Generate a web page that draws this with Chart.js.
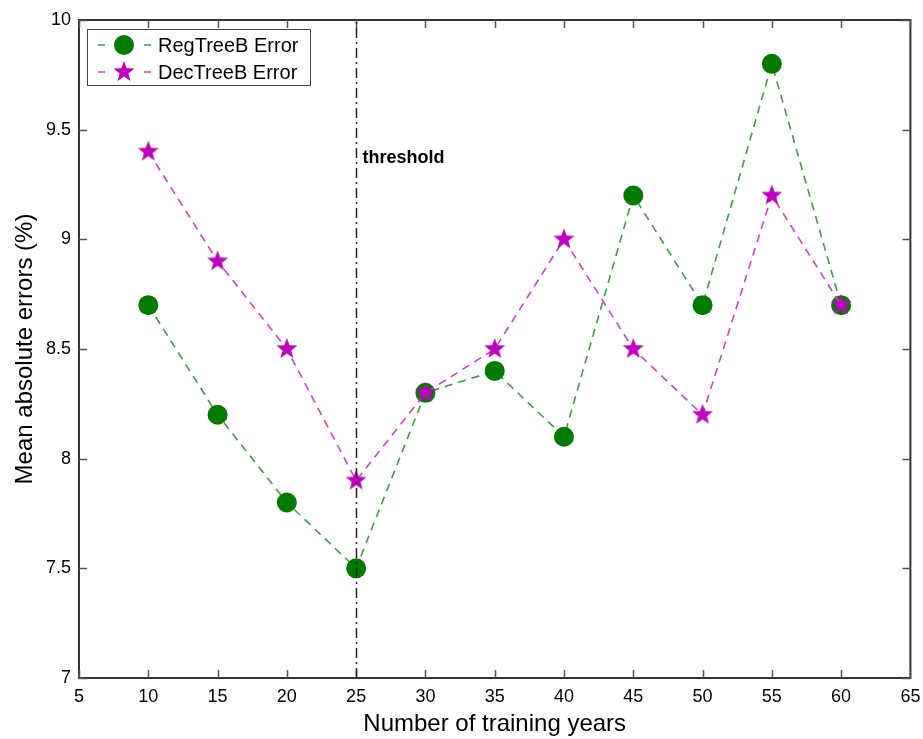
<!DOCTYPE html>
<html>
<head>
<meta charset="utf-8">
<script src="https://cdn.jsdelivr.net/npm/chart.js@4.4.0/dist/chart.umd.min.js"></script>
<style>
  html, body { margin: 0; padding: 0; background: #fff; }
  #wrap { width: 923px; height: 739px; }
</style>
</head>
<body>
<div id="wrap"><canvas id="myChart" width="923" height="739"></canvas></div>
<script>
// data
const years = [10, 15, 20, 25, 30, 35, 40, 45, 50, 55, 60];
const regTreeErr = [8.7, 8.2, 7.8, 7.5, 8.3, 8.4, 8.1, 9.2, 8.7, 9.8, 8.7];
const decTreeErr = [9.4, 8.9, 8.5, 7.9, 8.3, 8.5, 9.0, 8.5, 8.2, 9.2, 8.7];
const xTicks = [5, 10, 15, 20, 25, 30, 35, 40, 45, 50, 55, 60, 65];
const yTicks = [7, 7.5, 8, 8.5, 9, 9.5, 10];
const thresholdYear = 25;

const FONT = "'Liberation Sans', Arial, Helvetica, sans-serif";

// filled five point star as marker
function makeStar(r, color) {
  const c = document.createElement('canvas');
  c.width = c.height = 2 * r + 2;
  const g = c.getContext('2d');
  g.fillStyle = color;
  g.beginPath();
  for (let i = 0; i < 10; i++) {
    const rad = i % 2 ? r * 0.42 : r;
    const a = -Math.PI / 2 + i * Math.PI / 5;
    g.lineTo(r + 1 + rad * Math.cos(a), r + 1 + rad * Math.sin(a));
  }
  g.closePath();
  g.fill();
  return c;
}
const starImg = makeStar(11, '#c000c0');

// box, inward ticks, threshold line and legend
const decorPlugin = {
  id: 'decor',
  afterDraw(chart) {
    const ctx = chart.ctx;
    const a = chart.chartArea;
    const xs = chart.scales.x, ys = chart.scales.y;
    ctx.save();
    ctx.strokeStyle = '#333';
    ctx.lineWidth = 2;
    ctx.strokeRect(a.left, a.top, a.right - a.left, a.bottom - a.top);
    ctx.lineWidth = 1.5;
    ctx.strokeStyle = '#555';
    ctx.beginPath();
    xs.ticks.forEach(t => {
      const px = Math.round(xs.getPixelForValue(t.value)) + 0.5;
      ctx.moveTo(px, a.bottom); ctx.lineTo(px, a.bottom - 8);
      ctx.moveTo(px, a.top); ctx.lineTo(px, a.top + 8);
    });
    ys.ticks.forEach(t => {
      const py = Math.round(ys.getPixelForValue(t.value)) + 0.5;
      ctx.moveTo(a.left, py); ctx.lineTo(a.left + 8, py);
      ctx.moveTo(a.right, py); ctx.lineTo(a.right - 8, py);
    });
    ctx.stroke();

    // threshold
    const tx = Math.round(xs.getPixelForValue(thresholdYear)) + 0.5;
    ctx.strokeStyle = '#222';
    ctx.lineWidth = 1.5;
    ctx.setLineDash([10, 4, 2, 4]);
    ctx.beginPath();
    ctx.moveTo(tx, a.bottom); ctx.lineTo(tx, a.top);
    ctx.stroke();
    ctx.setLineDash([]);
    ctx.fillStyle = '#000';
    ctx.font = "bold 18px 'Liberation Sans Narrow', 'Liberation Sans', Arial, sans-serif";
    ctx.textBaseline = 'middle';
    ctx.textAlign = 'left';
    ctx.fillText('threshold', tx + 6, 158);

    // legend
    const lx = a.left + 8, ly = a.top + 9, lw = 223, lh = 56;
    ctx.fillStyle = '#fff';
    ctx.fillRect(lx, ly, lw, lh);
    ctx.strokeStyle = '#444';
    ctx.lineWidth = 1;
    ctx.strokeRect(lx + 0.5, ly + 0.5, lw, lh);
    chart.data.datasets.forEach((ds, i) => {
      const cy = ly + 16 + i * 27;
      ctx.strokeStyle = ds.borderColor;
      ctx.lineWidth = 1.5;
      ctx.beginPath();
      ctx.moveTo(lx + 11, cy); ctx.lineTo(lx + 18, cy);
      ctx.moveTo(lx + 57, cy); ctx.lineTo(lx + 64, cy);
      ctx.stroke();
      const mx = lx + 37;
      if (ds.pointStyle === 'circle') {
        ctx.fillStyle = ds.pointBackgroundColor;
        ctx.beginPath();
        ctx.arc(mx, cy, 10, 0, Math.PI * 2);
        ctx.fill();
      } else {
        ctx.drawImage(ds.pointStyle, mx - ds.pointStyle.width / 2, cy - ds.pointStyle.height / 2);
      }
      ctx.fillStyle = '#000';
      ctx.font = '20px ' + FONT;
      ctx.textAlign = 'left';
      ctx.textBaseline = 'middle';
      ctx.fillText(ds.label, lx + 71, cy + 1);
    });
    ctx.restore();
  }
};

const ctx = document.getElementById('myChart');

new Chart(ctx, {
  type: 'line',
  data: {
    datasets: [{
      label: 'RegTreeB Error',
      data: years.map((x, i) => ({x: x, y: regTreeErr[i]})),
      borderColor: '#3c9e3c',
      borderWidth: 1.6,
      borderDash: [8, 6],
      pointStyle: 'circle',
      pointRadius: 10,
      pointBackgroundColor: '#007a00',
      pointBorderColor: '#007a00',
      pointBorderWidth: 0,
      tension: 0,
      order: 1
    }, {
      label: 'DecTreeB Error',
      data: years.map((x, i) => ({x: x, y: decTreeErr[i]})),
      borderColor: '#d040d0',
      borderWidth: 1.6,
      borderDash: [8, 6],
      pointStyle: starImg,
      pointRadius: 11,
      pointBackgroundColor: '#c000c0',
      tension: 0,
      order: 0
    }]
  },
  plugins: [decorPlugin],
  options: {
    responsive: false,
    animation: false,
    events: [],
    layout: { padding: { left: 0, top: 20, right: 11, bottom: 0 } },
    plugins: { legend: { display: false }, tooltip: { enabled: false } },
    scales: {
      x: {
        type: 'linear',
        min: 5, max: 65,
        afterBuildTicks: s => { s.ticks = xTicks.map(v => ({value: v})); },
        afterFit: s => { s.height = 61; s.paddingLeft = 0; s.paddingRight = 0; },
        grid: { display: false },
        border: { display: false },
        ticks: { color: '#000', padding: 0, font: { family: FONT, size: 18 }, maxRotation: 0, autoSkip: false },
        title: { display: true, text: 'Number of training years', color: '#000', padding: { top: 2, bottom: 0 }, font: { family: FONT, size: 24 } }
      },
      y: {
        min: 7, max: 10,
        afterBuildTicks: s => { s.ticks = yTicks.map(v => ({value: v})); },
        afterFit: s => { s.width = 79; s.paddingTop = 0; s.paddingBottom = 0; },
        grid: { display: false },
        border: { display: false },
        ticks: { color: '#000', padding: 0, font: { family: FONT, size: 18 }, callback: v => String(v), autoSkip: false },
        title: { display: true, text: 'Mean absolute errors (%)', color: '#000', padding: { top: 11, bottom: 0 }, font: { family: FONT, size: 24 } }
      }
    }
  }
});
</script>
</body>
</html>
